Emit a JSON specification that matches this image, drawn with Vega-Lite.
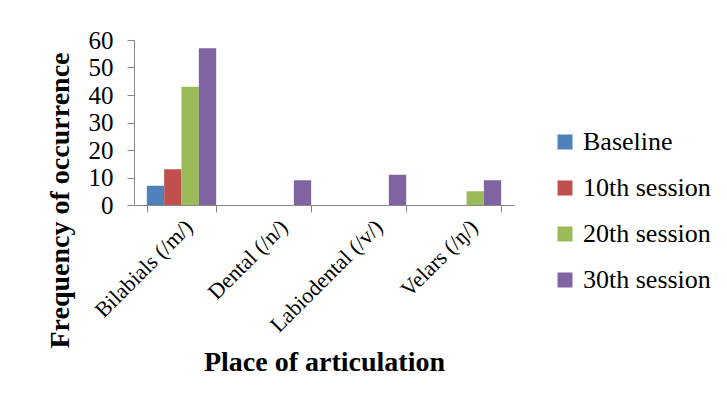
{
  "$schema": "https://vega.github.io/schema/vega-lite/v6.json",
  "width": 380,
  "height": 165,
  "autosize": {"type": "none"},
  "padding": {"left": 134, "top": 40, "right": 213, "bottom": 198},
  "background": "white",
  "config": {
    "font": "Liberation Serif",
    "view": {"stroke": null},
    "axis": {"grid": false, "domainColor": "#888888", "tickColor": "#888888", "labelColor": "black", "titleColor": "black", "labelFont": "Liberation Serif", "titleFont": "Liberation Serif"},
    "legend": {"labelFont": "Liberation Serif"}
  },
  "data": {
    "values": [
      {"place": "Bilabials (/m/)", "session": "Baseline", "value": 7},
      {"place": "Bilabials (/m/)", "session": "10th session", "value": 13},
      {"place": "Bilabials (/m/)", "session": "20th session", "value": 43},
      {"place": "Bilabials (/m/)", "session": "30th session", "value": 57},
      {"place": "Dental (/n/)", "session": "Baseline", "value": 0},
      {"place": "Dental (/n/)", "session": "10th session", "value": 0},
      {"place": "Dental (/n/)", "session": "20th session", "value": 0},
      {"place": "Dental (/n/)", "session": "30th session", "value": 9},
      {"place": "Labiodental (/v/)", "session": "Baseline", "value": 0},
      {"place": "Labiodental (/v/)", "session": "10th session", "value": 0},
      {"place": "Labiodental (/v/)", "session": "20th session", "value": 0},
      {"place": "Labiodental (/v/)", "session": "30th session", "value": 11},
      {"place": "Velars (/ŋ/)", "session": "Baseline", "value": 0},
      {"place": "Velars (/ŋ/)", "session": "10th session", "value": 0},
      {"place": "Velars (/ŋ/)", "session": "20th session", "value": 5},
      {"place": "Velars (/ŋ/)", "session": "30th session", "value": 9}
    ]
  },
  "mark": {"type": "bar"},
  "encoding": {
    "x": {
      "field": "place", "type": "nominal", "sort": null,
      "scale": {"paddingInner": 0.27, "paddingOuter": 0.135},
      "axis": {
        "title": "Place of articulation", "titleFontSize": 28, "titleFontWeight": "bold",
        "titleY": 157, "titleBaseline": "middle",
        "labelAngle": -45, "labelFontSize": 22, "labelPadding": 4,
        "tickBand": "extent", "tickSize": 7, "labelLimit": 300
      }
    },
    "xOffset": {"field": "session", "type": "nominal", "sort": ["Baseline", "10th session", "20th session", "30th session"]},
    "y": {
      "field": "value", "type": "quantitative",
      "scale": {"domain": [0, 60]},
      "axis": {
        "title": "Frequency of occurrence", "titleFontSize": 28, "titleFontWeight": "bold",
        "titleX": -74, "titleY": 160, "titleBaseline": "middle", "titleAngle": -90,
        "values": [0, 10, 20, 30, 40, 50, 60], "labelFontSize": 25, "tickSize": 7, "labelPadding": 14
      }
    },
    "color": {
      "field": "session", "type": "nominal",
      "sort": ["Baseline", "10th session", "20th session", "30th session"],
      "scale": {"domain": ["Baseline", "10th session", "20th session", "30th session"], "range": ["#4F81BD", "#C0504D", "#9BBB59", "#8064A2"]},
      "legend": {
        "title": null, "orient": "none", "legendX": 418, "legendY": 89,
        "symbolType": "square", "symbolSize": 225, "symbolStrokeWidth": 0,
        "labelFontSize": 26, "rowPadding": 20, "labelOffset": 5
      }
    }
  }
}
